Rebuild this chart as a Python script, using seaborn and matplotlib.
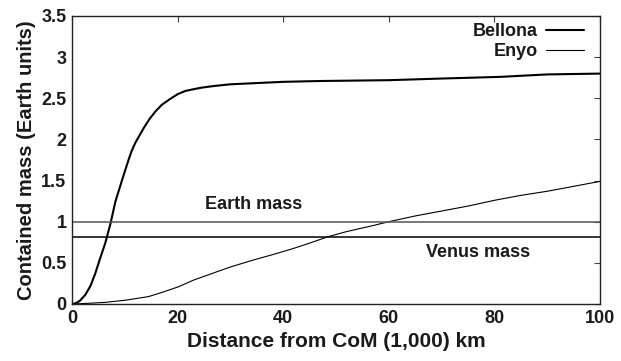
import matplotlib
matplotlib.use("Agg")
import matplotlib.pyplot as plt
import seaborn as sns
import pandas as pd

sns.set_theme(style="white")
plt.rcParams['font.family'] = ['Liberation Sans', 'DejaVu Sans']
plt.rcParams['font.weight'] = 'bold'

# Data
bellona_x = [0, 0.5, 1, 1.5, 2.5, 3.5, 4.4, 5.3, 6.3, 7.3, 8.2, 9.5, 10.7, 11.3, 12.0, 13.6, 14.7, 15.8, 17, 18.3, 20, 21.5, 23, 24.6, 27, 30, 40, 47, 60, 70, 81, 90, 100]
bellona_y = [0, 0.005, 0.02, 0.04, 0.11, 0.22, 0.37, 0.55, 0.74, 0.98, 1.24, 1.51, 1.75, 1.86, 1.96, 2.14, 2.25, 2.34, 2.42, 2.48, 2.55, 2.59, 2.61, 2.63, 2.65, 2.67, 2.70, 2.71, 2.72, 2.74, 2.76, 2.79, 2.80]
enyo_x = [0, 3, 6.3, 10, 14.5, 17, 20.2, 23, 26.5, 30, 34.1, 38, 41.7, 45, 48.6, 52, 56.8, 60, 65, 70, 75, 80, 85, 90, 95, 100]
enyo_y = [0, 0.008, 0.02, 0.045, 0.09, 0.14, 0.21, 0.29, 0.37, 0.45, 0.53, 0.60, 0.67, 0.74, 0.82, 0.88, 0.95, 1.00, 1.07, 1.13, 1.19, 1.26, 1.32, 1.37, 1.43, 1.49]
earth_mass = 1.0
venus_mass = 0.815

df = pd.concat([
    pd.DataFrame({"x": bellona_x, "y": bellona_y, "body": "Bellona"}),
    pd.DataFrame({"x": enyo_x, "y": enyo_y, "body": "Enyo"}),
])

fig = plt.figure(figsize=(6.21, 3.61), dpi=100)
ax = fig.add_axes([72/621, 1-304/361, 528/621, 288/361])

sns.lineplot(data=df[df.body == "Bellona"], x="x", y="y", ax=ax, color="black", lw=1.5, label="Bellona")
sns.lineplot(data=df[df.body == "Enyo"], x="x", y="y", ax=ax, color="black", lw=0.8, label="Enyo")
ax.axhline(earth_mass, color="#555555", lw=1.1)
ax.axhline(venus_mass, color="black", lw=1.1)

ax.text(34.4, 1.11, "Earth mass", ha="center", va="bottom", fontsize=13, fontweight="bold", color="#1a1a1a")
ax.text(77, 0.73, "Venus mass", ha="center", va="top", fontsize=13, fontweight="bold", color="#1a1a1a")

ax.set_xlim(0, 100)
ax.set_ylim(0, 3.5)
ax.set_xticks([0, 20, 40, 60, 80, 100])
ax.set_yticks([0, 0.5, 1, 1.5, 2, 2.5, 3, 3.5])
ax.set_yticklabels(["0", "0.5", "1", "1.5", "2", "2.5", "3", "3.5"])
ax.tick_params(direction="in", top=True, right=True, length=4, width=0.8, labelsize=13, pad=4,
               color="#444444", labelcolor="#1a1a1a")
for lab in ax.get_xticklabels() + ax.get_yticklabels():
    lab.set_fontweight("bold")
for s in ax.spines.values():
    s.set_color("#222222")
    s.set_linewidth(1.0)

ax.set_xlabel("Distance from CoM (1,000) km", fontsize=15, fontweight="bold", labelpad=4, color="#1a1a1a")
ax.set_ylabel("Contained mass (Earth units)", fontsize=14.5, fontweight="bold", labelpad=4, color="#1a1a1a")

leg = ax.legend(loc="upper right", frameon=False, markerfirst=False, fontsize=13,
                handlelength=2.1, handletextpad=0.45, borderaxespad=0.0, borderpad=0.0,
                labelspacing=0.15, bbox_to_anchor=(0.9697, 0.975))
for t in leg.get_texts():
    t.set_fontweight("bold")
    t.set_color("#1a1a1a")

fig.savefig("out.png", dpi=100)
